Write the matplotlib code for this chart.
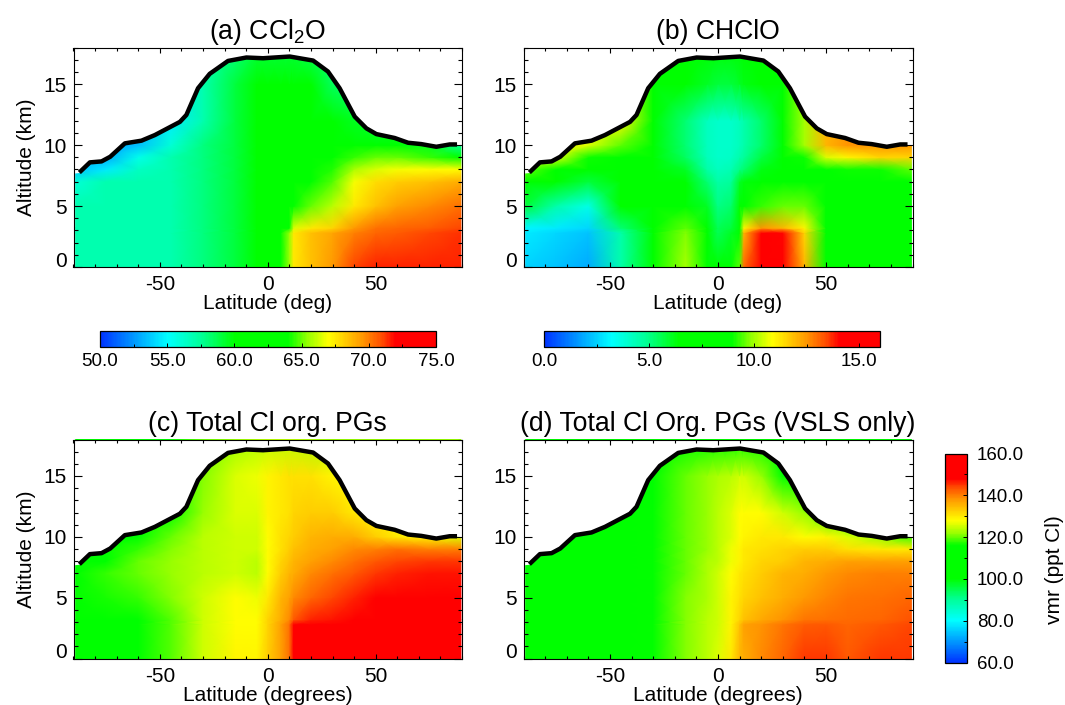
import numpy as np
import matplotlib
matplotlib.use('Agg')
import matplotlib.pyplot as plt
from matplotlib.colors import LinearSegmentedColormap, Normalize
from matplotlib.cm import ScalarMappable
from matplotlib.ticker import MultipleLocator

plt.rcParams['font.family'] = ['Liberation Sans', 'DejaVu Sans']
plt.rcParams['mathtext.default'] = 'regular'
plt.rcParams['axes.unicode_minus'] = False

W, H = 1065, 705

# ----- data -----
lats = [-89, -75, -60, -45, -30, -15, -5, 0, 6, 10, 12, 20, 30, 40, 50, 60, 75, 89.5]
alts = [0, 2.8, 3.2, 5, 7, 8, 9, 10, 12, 15, 18]

trop_lat = [-90, -87.3, -82.4, -77, -73, -66.2, -58.5, -52.3, -40.7, -37.7, -32.3, -26.9, -18.4, -9.9, -2.2,
            10.2, 21, 27.9, 33.3, 40.3, 45.7, 50.3, 58.8, 65, 71.1, 78.1, 84.3, 87.7, 90]
trop_alt = [7.7, 7.75, 8.58, 8.66, 9.04, 10.14, 10.36, 10.82, 11.9, 12.47, 14.66, 15.84, 16.9, 17.18, 17.12,
            17.26, 16.93, 16.03, 14.66, 12.33, 11.37, 10.9, 10.58, 10.19, 10.08, 9.86, 10.05, 10.05, 10.0]

ccl2o = [
    [57, 57, 57, 57, 58, 59, 60.5, 61, 61.5, 65.5, 67.5, 68.5, 69.5, 71, 71.5, 71.5, 71.5, 71.5],
    [57, 57, 57, 57, 58, 59, 60.5, 61, 61.5, 65.5, 67.5, 68.5, 69.2, 70, 70.5, 70.7, 71, 71.3],
    [57, 57, 57, 57, 58, 59, 60.5, 61, 61.5, 64, 66.5, 67.5, 68, 69.5, 70.3, 70.5, 70.7, 71],
    [57, 57, 57, 57, 58, 59, 60.5, 61, 61.5, 63, 64, 65, 66, 67.5, 68.5, 69.3, 69.8, 70.3],
    [56, 57, 57, 57, 58, 59, 60.5, 61, 61.2, 61.5, 62, 63.5, 64.8, 66.8, 67.8, 68.2, 68.5, 69],
    [53.5, 54.5, 56.5, 57, 58, 59, 60.5, 61, 61, 61.2, 61.5, 63, 64.3, 65.8, 66.5, 66.8, 67, 67],
    [53, 53, 55.5, 57, 58, 59, 60, 60.5, 60.8, 61, 61, 62, 63, 64.5, 65, 65, 64.5, 64],
    [53, 53, 53.5, 56, 58, 59, 60, 60.5, 60.5, 60.8, 61, 61, 61.5, 61.5, 60.5, 60, 59.5, 57.5],
    [53, 53, 53, 54.5, 57, 59, 60, 60.5, 60.5, 60.5, 60.5, 60.5, 60.5, 59.5, 59, 59, 59, 58],
    [53, 53, 53, 54, 57, 59, 60, 60.5, 60.5, 60.5, 60.5, 60, 58.5, 58, 58, 58, 58, 58],
    [53, 53, 53, 54, 57, 58, 59, 59, 59, 59, 59, 58.5, 58, 58, 58, 58, 58, 58],
]
chclo = [
    [2.5, 2.3, 1.9, 4.5, 7.5, 10, 8, 7.5, 7.5, 9.5, 13, 15.5, 15, 12, 7.5, 8, 8, 8],
    [2.9, 2.6, 2.3, 4.5, 8, 9.8, 6.5, 5.5, 6, 7.5, 12, 14.5, 14, 11.5, 7.5, 8, 8, 8],
    [3.1, 2.9, 2.6, 5.2, 8, 9.5, 6.5, 5.5, 5.8, 7.5, 11, 12.5, 12, 11, 7.5, 8, 8, 8],
    [5.8, 4.5, 3.6, 6.5, 7.5, 7.5, 6, 5, 5.3, 6.8, 7.8, 9.3, 9.6, 9.6, 8, 8, 8, 8],
    [8, 7, 5.8, 7, 7.5, 7, 5.2, 4.6, 4.8, 6, 6.3, 7.2, 7.5, 8, 8, 8, 8, 8],
    [9.5, 8.5, 7.8, 7.5, 7.5, 6, 4.6, 4.2, 4.4, 5, 5.3, 6.2, 7.5, 8, 8.5, 9, 9, 9.5],
    [11, 10.5, 9, 8, 7.5, 5.4, 4.3, 4, 4.1, 4.5, 4.8, 5.7, 7.5, 9, 10.5, 11, 11.5, 11.5],
    [11, 11, 10.5, 9.5, 8.5, 5.2, 4.2, 4, 4, 4.3, 4.5, 5.3, 7.5, 10, 12, 12.5, 12.5, 12.5],
    [11, 11, 11, 11, 8.5, 5.2, 4.2, 4, 4, 4.3, 4.5, 5.3, 7.5, 10, 12, 12.5, 12.5, 12.5],
    [11, 11, 11, 11, 8, 7, 6, 5.8, 5.8, 6, 6.2, 7, 8, 10, 12, 12.5, 12.5, 12.5],
    [11, 11, 11, 11, 8, 8, 8, 8, 8, 8, 8, 8, 8, 10, 12, 12.5, 12.5, 12.5],
]
total_cl = [
    [108, 109, 112, 119, 125, 129, 129, 133, 137, 141, 150, 155, 155, 155, 155, 155, 155, 155],
    [112, 112, 112, 119, 125, 128, 128, 132, 137, 141, 150, 155, 155, 155, 155, 155, 155, 155],
    [113, 113, 113, 119, 125, 128, 128, 132, 136, 139, 143, 146, 147, 148, 150, 152, 155, 155],
    [116, 117, 118, 121, 125, 128, 127, 130, 135, 137, 139, 142, 144, 146, 148, 150, 150, 150],
    [114, 118, 120, 122, 124, 125, 124, 128, 133, 135, 136, 139, 141, 143, 145, 146, 147, 147],
    [110, 113, 120, 122, 124, 125, 124, 128, 132, 134, 135, 137, 139, 141, 143, 144, 145, 145],
    [108, 110, 118, 121, 124, 125, 125, 128, 131, 133, 134, 136, 137, 139, 140, 141, 140, 140],
    [108, 108, 114, 120, 124, 125, 125, 128, 131, 132, 133, 135, 136, 136, 133, 130, 129, 126],
    [108, 108, 110, 116, 122, 126, 126, 129, 130, 131, 132, 133, 133, 130, 128, 128, 128, 125],
    [108, 108, 110, 115, 121, 126, 127, 129, 130, 131, 131, 131, 129, 128, 128, 128, 128, 125],
    [108, 108, 110, 115, 120, 122, 123, 124, 124, 124, 124, 123, 122, 122, 122, 122, 122, 122],
]
total_vsls = [
    [110, 110, 110, 110, 116, 121, 124, 126, 130, 135, 136, 139, 142, 145, 145, 143, 145, 145],
    [110, 110, 110, 110, 116, 121, 124, 125, 129, 134, 137, 138.5, 140.5, 142.5, 143, 142, 143, 144],
    [110, 110, 110, 110, 116, 121, 124, 125, 129, 132, 134, 136.5, 138.5, 140.5, 141, 141.5, 142, 143.5],
    [110, 110, 110, 110, 116, 121, 123, 125, 129, 131, 132, 134, 136, 138, 139.5, 140.5, 141, 142],
    [110, 110, 110, 111, 116, 120, 123, 125, 128, 130, 131, 133, 135, 136, 138, 139, 140, 140],
    [109, 109, 110, 111, 116, 120, 123, 124, 127, 129, 130, 132, 133, 135, 136, 137, 137, 137],
    [109, 109, 110, 112, 116, 120, 122, 124, 127, 129, 130, 131, 132, 133, 133, 131, 130, 130],
    [109, 109, 109, 112, 116, 120, 122, 124, 126, 128, 129, 130, 130, 128, 129, 126, 122, 118],
    [109, 109, 109, 110, 116, 120, 122, 124, 126, 128, 128, 128, 125, 122, 118, 116, 116, 115],
    [109, 109, 109, 110, 115, 120, 122, 123, 124, 125, 125, 122, 116, 115, 115, 115, 115, 115],
    [109, 109, 109, 110, 112, 113, 115, 116, 116, 116, 116, 115, 113, 113, 113, 113, 113, 113],
]

# colour table of the bars
cmap = LinearSegmentedColormap.from_list('idl', [
    (0.0, (0.0, 0.2, 1.0)), (0.1, (0.0, 0.6, 1.0)), (0.2, (0.0, 1.0, 1.0)), (0.3, (0.0, 1.0, 0.6)),
    (0.4, (0.0, 1.0, 0.0)), (0.56, (0.0, 1.0, 0.0)), (0.62, (0.6, 1.0, 0.0)), (0.68, (1.0, 1.0, 0.0)),
    (0.78, (1.0, 0.6, 0.0)), (0.84, (1.0, 0.3, 0.0)), (0.88, (1.0, 0.0, 0.0)), (1.0, (1.0, 0.0, 0.0))], N=256)


def px_axes(fig, x0, x1, y0, y1):
    # pixel box (from the top left corner) to figure fractions
    return fig.add_axes([x0 / W, 1 - y1 / H, (x1 - x0) / W, (y1 - y0) / H])


def panel(fig, box, values, vmin, vmax, title, xlabel, show_ylabel):
    ax = px_axes(fig, *box)
    ax.pcolormesh(lats, alts, np.array(values), cmap=cmap, vmin=vmin, vmax=vmax, shading='gouraud', zorder=1)
    ax.fill_between(trop_lat, trop_alt, 18, color='white', lw=0, zorder=1.5)
    ax.plot(trop_lat[1:-1], trop_alt[1:-1], color='black', lw=3.2, zorder=3, solid_capstyle='butt')
    ax.set_xlim(-90, 90)
    ax.set_ylim(0, 18)
    ax.set_axisbelow(False)
    ax.set_xticks([-50, 0, 50])
    ax.set_yticks([0, 5, 10, 15])
    ax.xaxis.set_minor_locator(MultipleLocator(10))
    ax.yaxis.set_minor_locator(MultipleLocator(1))
    ax.tick_params(axis='x', which='major', direction='in', top=True, length=3.5, width=0.8, labelsize=15, pad=6)
    ax.tick_params(axis='x', which='minor', direction='in', top=True, length=2, width=0.8)
    ax.tick_params(axis='y', which='major', direction='in', right=True, length=6, width=0.8, labelsize=15, pad=5)
    ax.tick_params(axis='y', which='minor', direction='in', right=True, length=3, width=0.8)
    ax.get_yticklabels()[0].set_va('baseline')
    ax.set_xlabel(xlabel, fontsize=15, labelpad=0)
    if show_ylabel:
        ax.set_ylabel('Altitude (km)', fontsize=15, labelpad=5)
    ax.set_title(title, fontsize=19.2, pad=6)
    return ax


def hbar(fig, box, vmin, vmax, major, minor, fmt='%.1f'):
    cax = px_axes(fig, *box)
    cb = fig.colorbar(ScalarMappable(Normalize(vmin, vmax), cmap), cax=cax, orientation='horizontal')
    cb.set_ticks(major)
    cb.set_ticklabels([fmt % v for v in major])
    cb.ax.xaxis.set_minor_locator(MultipleLocator(minor))
    cb.ax.tick_params(which='major', direction='in', length=3, width=0.7, labelsize=13.5, pad=5)
    cb.ax.tick_params(which='minor', direction='in', length=2, width=0.7)
    cb.outline.set_linewidth(0.9)


fig = plt.figure(figsize=(W / 100, H / 100), dpi=100)

left, right = (73.5, 462), (523.5, 912.5)
top, bottom = (47.5, 267), (439.5, 658.5)

panel(fig, (*left, *top), ccl2o, 50, 75, '(a) CCl$_2$O', 'Latitude (deg)', True)
panel(fig, (*right, *top), chclo, 0, 16, '(b) CHClO', 'Latitude (deg)', False)
panel(fig, (*left, *bottom), total_cl, 60, 160, '(c) Total Cl org. PGs', 'Latitude (degrees)', True)
panel(fig, (*right, *bottom), total_vsls, 60, 160, '(d) Total Cl Org. PGs (VSLS only)', 'Latitude (degrees)', False)

hbar(fig, (100, 436, 331.5, 346.5), 50, 75, [50, 55, 60, 65, 70, 75], 2.5)
hbar(fig, (544, 880, 331.5, 346.5), 0, 16, [0, 5, 10, 15], 2.5)

# vertical bar shared by (c) and (d)
vax = px_axes(fig, 945, 967, 453.5, 662.5)
vcb = fig.colorbar(ScalarMappable(Normalize(60, 160), cmap), cax=vax)
vcb.set_ticks([60, 80, 100, 120, 140, 160])
vcb.set_ticklabels(['%.1f' % v for v in [60, 80, 100, 120, 140, 160]])
vcb.ax.yaxis.set_minor_locator(MultipleLocator(10))
vcb.ax.tick_params(which='major', direction='in', length=3, width=0.7, labelsize=13.5, pad=7)
vcb.ax.tick_params(which='minor', direction='in', length=2, width=0.7)
vcb.outline.set_linewidth(0.9)
fig.text(1055 / W, 1 - 570 / H, 'vmr (ppt Cl)', rotation=90, ha='center', va='center', fontsize=15)

fig.savefig('out.png', dpi=100)
